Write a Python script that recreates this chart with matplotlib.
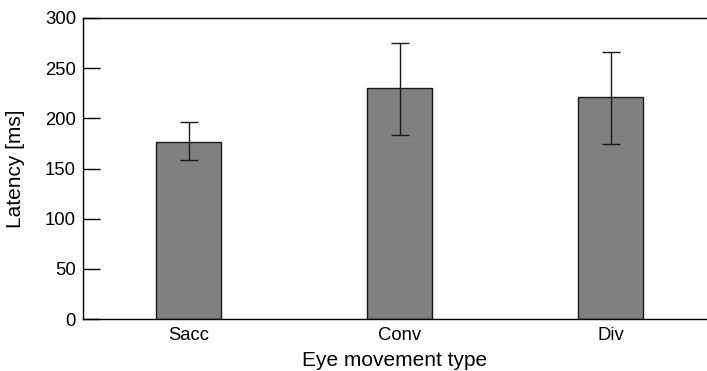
import matplotlib
matplotlib.use("Agg")
import matplotlib.pyplot as plt
import numpy as np

categories = ["Sacc", "Conv", "Div"]
means = [176.7, 230.5, 221.0]
err_low = [158.5, 183.7, 174.8]
err_high = [196.0, 275.5, 266.5]

plt.rcParams['font.family'] = ['Liberation Sans', 'DejaVu Sans']

fig = plt.figure(figsize=(7.07, 3.71), dpi=100)
ax = fig.add_axes([83/707, 1-319/371, 1-83/707, (319-18)/371])

x = np.arange(len(categories))
yerr = np.array([[m - l for m, l in zip(means, err_low)],
                 [h - m for m, h in zip(means, err_high)]])
ax.bar(x, means, width=0.31, color='#808080', edgecolor='#1a1a1a', linewidth=1.0, zorder=2)
ax.errorbar(x, means, yerr=yerr, fmt='none', ecolor='#1a1a1a', elinewidth=1.0,
            capsize=6.5, capthick=1.0, zorder=3)

ax.set_xlim(-0.5, 2.457)
ax.set_ylim(0, 300)
ax.set_yticks(np.arange(0, 301, 50))
ax.set_xticks(x)
ax.set_xticklabels(categories, fontsize=13.3)
ax.tick_params(axis='x', length=0, pad=6)
ax.tick_params(axis='y', direction='in', length=12, width=1.0, labelsize=13.3, pad=5)
ax.spines['right'].set_visible(False)
for s in ['left', 'top', 'bottom']:
    ax.spines[s].set_linewidth(1.0)
    ax.spines[s].set_color('black')
ax.set_ylabel('Latency [ms]', fontsize=15, labelpad=14)
ax.set_xlabel('Eye movement type', fontsize=15, labelpad=4.5)

fig.savefig('out.png', dpi=100)
